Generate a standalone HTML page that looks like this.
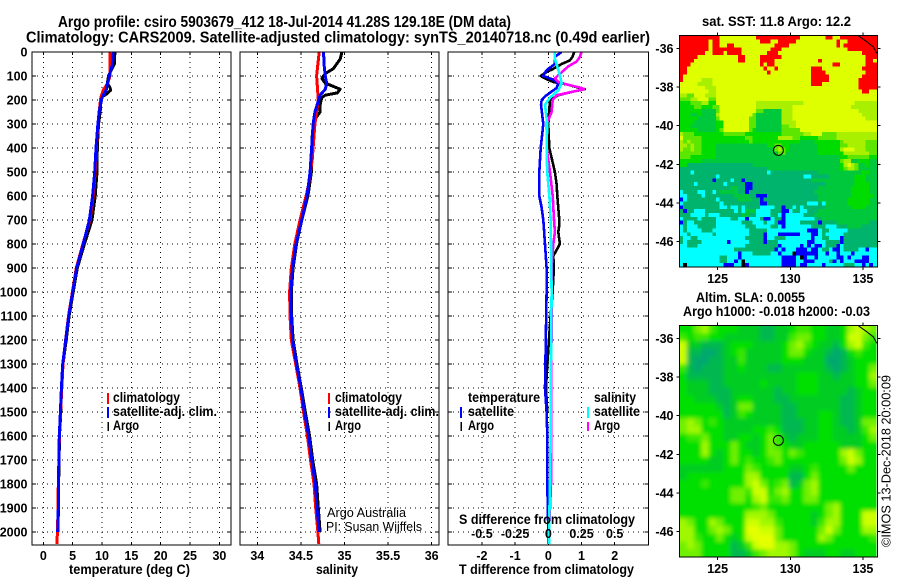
<!DOCTYPE html>
<html lang="en">
<head>
<meta charset="utf-8">
<title>Argo profile csiro 5903679_412</title>
<style>
html,body{margin:0;padding:0;background:#fff;}
svg{display:block;}
text{font-family:"Liberation Sans",sans-serif;fill:#000;}
.b{font-weight:bold;font-size:13.5px;}
.h{font-weight:bold;font-size:15.5px;}
.t{font-weight:bold;font-size:12.5px;}
.n{font-size:13px;}
</style>
</head>
<body>
<svg id="root" xmlns="http://www.w3.org/2000/svg" width="900" height="580" viewBox="0 0 900 580">
<rect x="0" y="0" width="900" height="580" fill="#fff"/>
<defs>
<clipPath id="clipT"><rect x="32" y="52" width="199" height="493"/></clipPath>
<clipPath id="clipS"><rect x="240" y="52" width="199" height="493"/></clipPath>
<clipPath id="clipD"><rect x="448" y="52" width="200" height="493"/></clipPath>
<clipPath id="clipSla"><rect x="679.5" y="326" width="197" height="231"/></clipPath>
<filter id="soft" filterUnits="userSpaceOnUse" x="650" y="300" width="250" height="280"><feGaussianBlur stdDeviation="2.2"/></filter>
</defs>
<text class="h" x="58" y="27" textLength="453" lengthAdjust="spacingAndGlyphs">Argo profile: csiro 5903679_412 18-Jul-2014 41.28S 129.18E (DM data)</text>
<text class="h" x="26" y="42.5" textLength="624" lengthAdjust="spacingAndGlyphs">Climatology: CARS2009. Satellite-adjusted climatology: synTS_20140718.nc (0.49d earlier)</text>
<g id="panels"></g>
<text class="b" x="69" y="574" textLength="121" lengthAdjust="spacingAndGlyphs">temperature (deg C)</text>
<text class="b" x="316" y="574" textLength="42" lengthAdjust="spacingAndGlyphs">salinity</text>
<text class="b" x="459" y="574" textLength="175" lengthAdjust="spacingAndGlyphs">T difference from climatology</text>
<text class="b" x="459" y="524" textLength="176" lengthAdjust="spacingAndGlyphs">S difference from climatology</text>

<g>
<rect x="107" y="393" width="2" height="11" fill="#f00"/>
<rect x="107" y="407" width="2" height="11" fill="#00f"/>
<rect x="107.5" y="422" width="1.5" height="9" fill="#000"/>
<text class="b" x="113" y="402" textLength="67" lengthAdjust="spacingAndGlyphs">climatology</text>
<text class="b" x="113" y="416" textLength="104" lengthAdjust="spacingAndGlyphs">satellite-adj. clim.</text>
<text class="b" x="113" y="430" textLength="26" lengthAdjust="spacingAndGlyphs">Argo</text>
</g>
<g>
<rect x="328" y="393" width="2" height="11" fill="#f00"/>
<rect x="328" y="407" width="2" height="11" fill="#00f"/>
<rect x="328.5" y="422" width="1.5" height="9" fill="#000"/>
<text class="b" x="335" y="402" textLength="67" lengthAdjust="spacingAndGlyphs">climatology</text>
<text class="b" x="335" y="416" textLength="104" lengthAdjust="spacingAndGlyphs">satellite-adj. clim.</text>
<text class="b" x="335" y="430" textLength="26" lengthAdjust="spacingAndGlyphs">Argo</text>
</g>
<g>
<text class="b" x="468" y="402" textLength="72" lengthAdjust="spacingAndGlyphs">temperature</text>
<text class="b" x="594" y="402" textLength="42" lengthAdjust="spacingAndGlyphs">salinity</text>
<rect x="460" y="407" width="2" height="11" fill="#00f"/>
<rect x="460.5" y="422" width="1.5" height="9" fill="#000"/>
<text class="b" x="468" y="416" textLength="46" lengthAdjust="spacingAndGlyphs">satellite</text>
<text class="b" x="468" y="430" textLength="26" lengthAdjust="spacingAndGlyphs">Argo</text>
<rect x="587" y="407" width="2" height="11" fill="#0ff"/>
<rect x="587" y="422" width="2" height="9" fill="#f0f"/>
<text class="b" x="594" y="416" textLength="46" lengthAdjust="spacingAndGlyphs">satellite</text>
<text class="b" x="594" y="430" textLength="26" lengthAdjust="spacingAndGlyphs">Argo</text>
</g>
<text class="n" x="327" y="517" textLength="79" lengthAdjust="spacingAndGlyphs">Argo Australia</text>
<text class="n" x="326" y="531" textLength="96" lengthAdjust="spacingAndGlyphs">PI: Susan Wijffels</text>

<g id="maps"></g>
<text class="b" x="702" y="26" textLength="149" lengthAdjust="spacingAndGlyphs">sat. SST: 11.8 Argo: 12.2</text>
<text class="b" x="696" y="302" textLength="109" lengthAdjust="spacingAndGlyphs">Altim. SLA: 0.0055</text>
<text class="b" x="683" y="316" textLength="187" lengthAdjust="spacingAndGlyphs">Argo h1000: -0.018 h2000: -0.03</text>
<text class="n" transform="translate(890.5,547) rotate(-90)" x="0" y="0" textLength="172" lengthAdjust="spacingAndGlyphs">©IMOS 13-Dec-2018 20:00:09</text>
</svg>
<script>
// ---------- profile data ----------
const tempAxisTicks = [0, 5, 10, 15, 20, 25, 30];
const salAxisTicks = [34, 34.5, 35, 35.5, 36];
const salAxisLabels = ["34", "34.5", "35", "35.5", "36"];
const diffAxisTicks = [-2, -1, 0, 1, 2];
const sDiffAxisTicks = [-0.5, -0.25, 0, 0.25, 0.5];
const sDiffAxisLabels = ["-0.5", "-0.25", "0", "0.25", "0.5"];
const depthTicks = [0, 100, 200, 300, 400, 500, 600, 700, 800, 900, 1000, 1100, 1200, 1300, 1400, 1500, 1600, 1700, 1800, 1900, 2000];

const tempArgoDepths = [0, 50, 100, 130, 150, 160, 175, 190, 250, 300, 400, 500, 600, 700, 800, 900, 1000, 1100, 1200, 1300, 1400, 1500, 1600, 1700, 1800, 1900, 2000];
const tempArgo = [12.2, 12.1, 11.1, 10.9, 11.4, 11.45, 10.8, 9.8, 9.7, 9.4, 9.2, 9.15, 8.85, 8.3, 7.0, 5.8, 5.1, 4.4, 3.9, 3.35, 3.12, 2.98, 2.76, 2.7, 2.6, 2.58, 2.5];
const climDepths = [0, 100, 130, 160, 190, 250, 300, 400, 500, 600, 700, 800, 900, 1000, 1100, 1200, 1300, 1400, 1500, 1600, 1700, 1800, 1900, 2000, 2050];
const tempClim = [11.37, 11.37, 10.95, 10.2, 9.8, 9.5, 9.3, 9.05, 8.85, 8.5, 7.95, 6.75, 5.62, 4.95, 4.3, 3.8, 3.35, 3.15, 2.95, 2.75, 2.65, 2.56, 2.5, 2.42, 2.3];
const satDepths = [0, 50, 100, 130, 160, 190, 250, 300, 400, 500, 600, 700, 800, 900, 1000, 1100, 1200, 1300, 1400, 1500, 1600, 1700, 1800, 1900, 2000];
const tempSat = [11.93, 11.8, 11.25, 10.95, 10.7, 10.0, 9.5, 9.3, 8.98, 8.75, 8.4, 7.85, 6.8, 5.69, 5.0, 4.33, 3.82, 3.3, 3.08, 2.92, 2.72, 2.66, 2.55, 2.55, 2.45];

const salArgoDepths = [0, 30, 70, 90, 110, 130, 140, 155, 170, 180, 190, 220, 250, 280, 350, 500, 600, 700, 800, 900, 1000, 1100, 1200, 1300, 1400, 1500, 1600, 1700, 1800, 1900, 2000];
const salArgo = [34.97, 34.95, 34.87, 34.78, 34.74, 34.78, 34.85, 34.95, 34.92, 34.78, 34.74, 34.72, 34.72, 34.66, 34.63, 34.62, 34.58, 34.51, 34.45, 34.41, 34.39, 34.395, 34.41, 34.455, 34.505, 34.55, 34.6, 34.635, 34.68, 34.7, 34.72];
const salClimDepths = [0, 100, 200, 300, 450, 550, 600, 700, 800, 900, 1000, 1100, 1200, 1300, 1400, 1500, 1600, 1700, 1800, 1900, 2000, 2050];
const salClim = [34.71, 34.68, 34.7, 34.66, 34.63, 34.59, 34.56, 34.49, 34.43, 34.39, 34.37, 34.375, 34.39, 34.44, 34.49, 34.53, 34.575, 34.61, 34.65, 34.67, 34.695, 34.705];
const salSatDepths = [0, 50, 100, 130, 155, 180, 250, 300, 500, 600, 700, 800, 900, 1000, 1100, 1200, 1300, 1400, 1500, 1600, 1700, 1800, 1900, 2000];
const salSat = [34.76, 34.765, 34.78, 34.795, 34.78, 34.72, 34.66, 34.64, 34.605, 34.57, 34.51, 34.445, 34.405, 34.385, 34.39, 34.405, 34.45, 34.5, 34.54, 34.59, 34.625, 34.665, 34.685, 34.71];

const diffTArgoDepths = [0, 20, 35, 50, 70, 85, 100, 110, 125, 135, 150, 155, 165, 180, 200, 300, 400, 500, 550, 600, 700, 720, 750, 800, 850, 900, 1000, 1100, 1300, 1400, 1500];
const diffTArgo = [0.78, 0.73, 0.65, 0.4, 0.15, -0.07, -0.23, -0.1, 0.15, 0.55, 0.95, 1.1, 0.75, 0.3, 0.05, 0, 0.03, 0.2, 0.25, 0.27, 0.33, 0.33, 0.3, 0.35, 0.15, 0.17, 0.13, 0.07, -0.03, -0.07, -0.03];
const diffTSatDepths = [0, 20, 50, 70, 85, 100, 115, 130, 150, 165, 185, 200, 220, 300, 400, 500, 600, 650, 700, 800, 900, 1000, 1400, 1500, 1600, 1800, 2000, 2050];
const diffTSat = [0.4, 0.2, 0.2, 0, -0.1, -0.15, 0.15, 0.3, 0.25, 0.1, -0.1, -0.2, -0.22, -0.15, -0.23, -0.27, -0.27, -0.2, -0.15, -0.1, -0.05, -0.05, -0.1, -0.05, -0.03, -0.03, 0, 0];
const diffSArgoDepths = [0, 20, 40, 60, 85, 110, 125, 135, 150, 155, 165, 180, 200, 250, 300, 400, 500, 600, 700, 750, 800, 900, 1000, 1600, 1800, 2000];
const diffSArgo = [0.25, 0.238, 0.213, 0.15, 0.1, 0.05, 0.075, 0.138, 0.25, 0.268, 0.188, 0.063, 0.033, 0.025, -0.013, -0.013, 0.013, 0.033, 0.043, 0.05, 0.038, 0.025, 0.025, 0.022, 0.02, 0.005];
const diffSSatDepths = [0, 30, 60, 100, 130, 160, 190, 220, 250, 300, 400, 500, 600, 700, 800, 1000, 1400, 1600, 1800, 2000, 2050];
const diffSSat = [0.05, 0.05, 0.068, 0.088, 0.1, 0.075, 0.013, -0.025, -0.018, -0.008, -0.013, -0.008, 0.008, 0.018, 0.02, 0.025, 0.018, 0.018, 0.013, 0.005, 0.005];

// ---------- map data ----------
const argoLon = 129.18;
const argoLat = -41.28;
const lonTicks = [125, 130, 135];
const latTicks = [-36, -38, -40, -42, -44, -46];
const coastLons = [134.68, 135.26, 135.71, 135.95];
const coastLats = [-35.35, -35.66, -35.92, -36.26];
const sstPalette = ["#000000", "#0000ff", "#00ffff", "#00b46e", "#00c83c", "#00dc00", "#5ce600", "#a8f000", "#deff00", "#ff0000"];
const slaPalette = ["#00a870", "#00b850", "#00cc20", "#00e000", "#38e800", "#70f000", "#a0f800", "#ccff00", "#e4ff00"];
const sstLevels = [
"999999999998888888888999999999999888888899889999999999",
"999999998998888888888899988999998888888888898899999999",
"999999998998899888888888889999888888888888898999999999",
"999999998999999998888888899988888888888888888899999999",
"999999988999899998888888999888888888888888888888889999",
"999998888888888899888899999988888888888888888888888999",
"999988888888888899888899998888888888889888888888888998",
"999 8888888888888888888 9 8 99 8888888888888888 99 8888888 999",
"998888888888888888888889889888888888999888888888889999",
"998888888888888888888888988888888888999988888888888999",
"988888888888888888888888888888888888999998888888889999",
"988888777888888888888888888888888888999998888888899999",
"888887777888888888888888888888888888999888888888899999",
"888888877788888888888888888888888888888888888888899999",
"888888887788888888888888888888888888888888888888889988",
"776688877788888888888888888888888888888888888888888888",
"666778886688888888888888888888888888888888888888888888",
"555666775588888888888777777777777788888888888888777777",
"55556655566 8888888888 7777777777 8888888888888888 7777777",
"555555444468888888888664444477788888888888888888877777",
"555445444478888888886444444477788888888888888888887777",
"555554444468888888866444444477788888888888888888888777",
"555544444455888888866444444477778888888888888888888888",
"555444444455888888866444444466778888888888888888888888",
"555554444456888888865444444466666888888888888888888888",
"766655555555666666555555555566666677888666677777777777",
"866666555555555555665555555777766555556666677777777777",
"767666555555555555565555555555555444455555556777777666",
"776766555544444444444444556655444444445555556677777666",
"766766555544444444444444446765444444445555557888777666",
"666666555544444444444444444664444444445555555777777766",
"666555 5555 4444444444 4444444444 4444444444 4444 55 666666 55",
"555555 4444444444 4444444444 4444444444 44444444 677 4455544",
"55 33333333 3333333333 444444444444 444444444444 57876 44544",
"333333333333 333333333333 44444444444444444444 56776 44444",
"333 2 33333333333333333333 2 3333333333333 44444444 44445544",
"3333333333 2 33333333333333333333333 22 33333 44444 44555444",
"333333333 1 3333 2 33 1 333333333333333333 4444444444 44555444",
"3333 2 3333333 2 33333 11 33333333333333333333 444444 44555544",
"33333333333333 44 33 11 333333333333333333 44444444 45555544",
"2 3333 22 33 2 3 44444 33 1 333333333333333333 444444444 45555544",
"22 3333 2 33333333 4444 33 111 33333333333333 44444444 45555554",
"1 2 33333333 2 33333 4444 33 1 333333333333333 4444444 455555544",
"2 3333333333 2 3333333333 1 1 33333333333 222 3 2 444444 55555544",
"1 3333333333 22 3 22 3 2 3333 2222 33 1 33 232 333333 444444 45555444",
"3133222 33333333 2 3 2 444 2222 333 11 2 33 22 333 4444444 444444444",
"333 2222 3 222 3333 33 44 33 2222 33 2 1 2222 2 333 444444444 44444444",
"2 3333 2 3333 2222 33 22 1 22 2 3 11 2 33 1 22222222 33 444444 444444444",
"1 3 22 333333 2222222 3 33 222 3 22 3 11 2222 33333 1 3333 44 444444433",
"2 3 222 33333 22222222 333 2222 33 2 1 2222222 3333 222 333 44443333",
"232222 333 2222222222 33333 2222 2222222 1 11 2 33 22222 33333333",
"22 3 222222 3 222222222 3333 1 222 111111 222 11 2 3 22222 333333333",
"322 33 2222 222222222 33 333 1 22 33 3 2222222 1 22 33 222 1 333333333",
"3 2 3333 2222222 1 22222 3333 1 333 22222222 11 222 3333 1 333333333",
"22 333 2222222222222 333333333 1 22222 1 2 1 2 11 2 333 1 2 333333333",
"222222222222222 33333333333 1 2 1 222 111 2 11 2 33 2 1 1 2 333322122",
"2222222222222222 1 222 33333 2 2 1 222 0 111111 22 1 22 1 222 1 2222",
"22222222222 33 222 1 2 222222 222 2 1111 2 0 1 22 1 22222 1 1 2 1 222 11 22",
"22222222222 33 22 1 2 0 2222222222 1111 22 11 1 2222 3 1 2 1 222 11 11 22",
"2 0 2222222222 111 22 0 1 2 22222222 1111 2 11 2222 1 22222 333 22 1 2 1 2"
];
const slaLevels = [
[3,3,5,6,4,3,3,3,2,2,2,1,1,2,2,3,4,4,3,3,2,2,3,6,7,6,5],
[4,3,4,4,3,3,2,2,2,2,2,1,1,2,2,4,5,5,3,3,2,2,3,7,7,5,4],
[7,2,2,1,1,1,2,3,3,3,2,2,2,2,3,5,6,4,3,2,2,1,3,6,7,4,3],
[7,1,1,0,0,1,2,3,4,2,2,2,2,2,3,5,5,3,2,2,1,0,1,3,4,3,3],
[7,1,0,0,1,1,2,2,4,2,2,2,2,2,3,3,3,2,2,2,0,0,1,2,3,3,3],
[4,1,0,1,1,1,2,2,3,2,2,2,1,1,2,2,2,2,2,2,1,0,1,2,3,3,5],
[3,1,1,1,1,1,2,2,2,2,2,2,2,2,2,2,3,3,3,2,2,1,2,2,3,3,6],
[3,2,2,2,1,1,2,2,2,2,2,3,2,2,2,2,3,3,3,2,2,2,2,2,3,3,5],
[3,2,2,2,1,1,1,2,2,2,2,2,2,1,2,2,3,3,3,2,2,2,2,1,2,3,3],
[3,3,2,2,2,1,1,2,3,3,2,2,2,1,1,2,2,2,2,2,2,2,1,1,2,3,3],
[3,3,3,3,3,2,1,2,5,5,2,2,2,2,1,1,2,2,2,2,2,2,1,1,2,3,3],
[3,3,3,3,3,3,1,2,4,3,2,2,2,2,1,1,2,2,2,3,3,2,1,1,2,3,3],
[5,6,5,3,4,3,2,2,2,2,2,2,2,2,1,1,1,2,2,3,3,2,1,1,2,5,5],
[5,6,6,3,3,3,2,2,2,2,3,3,4,3,1,1,1,2,2,3,3,2,2,1,2,4,6],
[3,4,4,5,3,3,2,2,3,3,2,3,5,4,2,1,2,2,2,3,3,2,2,2,2,3,5],
[3,3,3,6,3,3,3,5,3,2,2,3,5,4,3,2,2,3,3,3,3,3,2,2,2,3,3],
[3,3,3,6,3,2,3,5,3,3,2,3,5,5,3,5,4,3,3,3,3,3,6,7,5,3,3],
[3,3,3,3,2,2,3,5,3,4,3,3,4,5,3,3,3,3,3,3,3,3,5,7,6,3,3],
[2,2,2,2,2,2,3,3,3,5,4,3,3,3,3,2,2,3,4,3,3,3,3,5,3,3,3],
[2,3,3,3,3,3,3,3,3,6,6,3,3,3,3,1,1,3,5,3,3,3,3,3,3,3,3],
[3,3,3,4,3,3,3,3,3,6,7,5,3,4,5,1,2,5,6,3,3,3,3,3,3,3,3],
[3,3,3,3,3,3,3,5,5,4,7,7,3,5,6,3,3,5,6,3,3,3,3,3,3,3,3],
[3,3,3,3,3,3,3,5,5,3,6,7,4,4,5,3,3,5,5,3,3,3,3,3,3,3,3],
[3,3,3,3,3,3,3,3,3,3,4,5,3,3,3,3,3,3,3,3,5,6,3,3,3,3,3],
[3,3,3,3,3,3,3,3,3,6,6,6,5,3,3,3,3,3,2,3,5,6,3,3,3,7,7],
[6,5,3,3,6,5,3,3,3,7,7,6,6,4,3,3,3,3,2,4,6,6,3,3,3,7,7],
[6,6,3,3,5,6,5,3,3,8,8,7,7,5,3,3,3,3,3,5,7,5,3,3,3,6,6],
[6,6,4,3,3,5,3,2,3,7,8,8,8,5,3,3,3,3,3,6,5,3,3,3,3,3,4],
[5,6,5,3,3,3,3,1,2,4,7,8,8,6,6,5,3,3,3,3,3,3,3,3,3,3,3],
[5,5,5,3,3,3,3,1,1,2,4,5,6,6,6,5,3,2,2,2,3,3,2,2,3,3,3]
];

// ---------- axis functions ----------
const NS = "http://www.w3.org/2000/svg";
const yDepth = d => 52 + 0.24 * d;
const xTemp = v => 43.3 + 5.87 * v;
const xSal = v => 257.3 + 87.2 * (v - 34);
const xDiffT = v => 548.3 + 33.2 * v;
const xDiffS = v => 548.3 + 132.8 * v;
const xLon = v => 790.3 + 14.53 * (v - 130);
const yLatSst = v => 48.3 - 19.33 * (v + 36);
const yLatSla = v => 338.3 - 19.33 * (v + 36);

function mk(parent, tag, attrs) {
  const el = document.createElementNS(NS, tag);
  for (const k in attrs) el.setAttribute(k, attrs[k]);
  parent.appendChild(el);
  return el;
}

const panelsGroup = document.getElementById("panels");
const mapsGroup = document.getElementById("maps");

function drawFrame(parent, left, right, xTicks, xf, showDepthLabels) {
  const top = 52, bottom = 545;
  depthTicks.forEach(d => {
    if (d === 0) return;
    const y = yDepth(d);
    const gl = mk(parent, "line", {x1: left, x2: right, y1: y, y2: y, stroke: "#000", "stroke-width": 1, "stroke-dasharray": "1 4", "shape-rendering": "crispEdges"});
    
    
    [[left, left + 4], [right - 4, right]].forEach(p => {
      const tk = mk(parent, "line", {x1: p[0], x2: p[1], y1: y, y2: y, stroke: "#000", "stroke-width": 1, "shape-rendering": "crispEdges"});
      
      
    });
  });
  xTicks.forEach(v => {
    const x = xf(v);
    const gl = mk(parent, "line", {x1: x, x2: x, y1: top, y2: bottom, stroke: "#000", "stroke-width": 1, "stroke-dasharray": "1 4", "shape-rendering": "crispEdges"});
    
    
    [[top, top + 3], [bottom - 3, bottom]].forEach(p => {
      const tk = mk(parent, "line", {x1: x, x2: x, y1: p[0], y2: p[1], stroke: "#000", "stroke-width": 1, "shape-rendering": "crispEdges"});
      
      
    });
  });
  if (showDepthLabels) {
    depthTicks.forEach(d => {
      const t = mk(parent, "text", {class: "t", x: 27.5, y: yDepth(d) + 4.5, "text-anchor": "end"});
      
      
      t.textContent = String(d);
    });
  }
}

function drawBox(parent, left, right) {
  const r = mk(parent, "rect", {x: left, y: 52, width: right - left, height: 493, fill: "none", stroke: "#000", "stroke-width": 1.2, "shape-rendering": "crispEdges"});
  
  
}

function drawXLabels(parent, ticks, labels, xf, y) {
  ticks.forEach((v, i) => {
    const t = mk(parent, "text", {class: "t", x: xf(v), y: y, "text-anchor": "middle"});
    
    
    t.textContent = labels[i];
  });
}

function drawSeries(parent, depths, values, xf, color, width, clip, name) {
  const pts = values.map((v, i) => xf(v).toFixed(1) + "," + yDepth(depths[i]).toFixed(1)).join(" ");
  const p = mk(parent, "polyline", {points: pts, fill: "none", stroke: color, "stroke-width": width, "stroke-linejoin": "round", "shape-rendering": "crispEdges", "clip-path": "url(#" + clip + ")"});
  
  
}

// temperature panel
drawFrame(panelsGroup, 32, 231, tempAxisTicks, xTemp, true);
drawSeries(panelsGroup, tempArgoDepths, tempArgo, xTemp, "#000", 3, "clipT", "temperature-argo-line");
drawSeries(panelsGroup, climDepths, tempClim, xTemp, "#f00", 3, "clipT", "temperature-climatology-line");
drawSeries(panelsGroup, satDepths, tempSat, xTemp, "#00f", 3, "clipT", "temperature-satellite-line");
drawBox(panelsGroup, 32, 231);
drawXLabels(panelsGroup, tempAxisTicks, tempAxisTicks.map(String), xTemp, 560);

// salinity panel
drawFrame(panelsGroup, 240, 439, salAxisTicks, xSal, false);
drawSeries(panelsGroup, salArgoDepths, salArgo, xSal, "#000", 3, "clipS", "salinity-argo-line");
drawSeries(panelsGroup, salClimDepths, salClim, xSal, "#f00", 3, "clipS", "salinity-climatology-line");
drawSeries(panelsGroup, salSatDepths, salSat, xSal, "#00f", 3, "clipS", "salinity-satellite-line");
drawBox(panelsGroup, 240, 439);
drawXLabels(panelsGroup, salAxisTicks, salAxisLabels, xSal, 560);

// difference panel
drawFrame(panelsGroup, 448, 648.5, diffAxisTicks, xDiffT, false);
drawSeries(panelsGroup, diffTArgoDepths, diffTArgo, xDiffT, "#000", 2.6, "clipD", "t-difference-argo-line");
drawSeries(panelsGroup, diffTSatDepths, diffTSat, xDiffT, "#00f", 2.6, "clipD", "t-difference-satellite-line");
drawSeries(panelsGroup, diffSArgoDepths, diffSArgo, xDiffS, "#f0f", 2.6, "clipD", "s-difference-argo-line");
drawSeries(panelsGroup, diffSSatDepths, diffSSat, xDiffS, "#0ff", 2.6, "clipD", "s-difference-satellite-line");
drawBox(panelsGroup, 448, 648.5);
drawXLabels(panelsGroup, diffAxisTicks, diffAxisTicks.map(String), xDiffT, 560);
drawXLabels(panelsGroup, sDiffAxisTicks, sDiffAxisLabels, xDiffS, 538);

// maps
const mapLeft = 679.5, mapRight = 876.5, mapW = 197;

function drawMapAxes(top, bottom, yLat, labelY, titleName) {
  lonTicks.forEach(v => {
    const x = xLon(v);
    [[top - 3, top], [bottom, bottom + 3]].forEach(p => {
      const tk = mk(mapsGroup, "line", {x1: x, x2: x, y1: p[0], y2: p[1], stroke: "#000", "stroke-width": 1, "shape-rendering": "crispEdges"});
      
      
    });
    const t = mk(mapsGroup, "text", {class: "t", x: x, y: labelY, "text-anchor": "middle"});
    
    
    t.textContent = String(v);
  });
  latTicks.forEach(v => {
    const y = yLat(v);
    [[mapLeft - 3, mapLeft], [mapRight + 1, mapRight + 4]].forEach(p => {
      const tk = mk(mapsGroup, "line", {x1: p[0], x2: p[1], y1: y, y2: y, stroke: "#000", "stroke-width": 1, "shape-rendering": "crispEdges"});
      
      
    });
    const t = mk(mapsGroup, "text", {class: "t", x: 673.5, y: y + 4.5, "text-anchor": "end"});
    
    
    t.textContent = String(v);
  });
  const f = mk(mapsGroup, "rect", {x: mapLeft, y: top, width: mapW + 1, height: bottom - top, fill: "none", stroke: "#000", "stroke-width": 1, "shape-rendering": "crispEdges"});
  
  
  const coast = mk(mapsGroup, "polyline", {points: coastLons.map((v, i) => xLon(v).toFixed(1) + "," + yLat(coastLats[i]).toFixed(1)).join(" "), fill: "none", stroke: "#000", "stroke-width": 1});
  
  
  const m = mk(mapsGroup, "circle", {cx: xLon(argoLon), cy: yLat(argoLat), r: 5, fill: "none", stroke: "#000", "stroke-width": 1});
  
  
}

// SST heatmap
const sstTop = 35.7, sstBottom = 267;
const sstCols = 54;
const sstCellW = mapW / sstCols;
const sstCellH = (sstBottom - sstTop) / sstLevels.length;
const sstGroup = mk(mapsGroup, "g", {"shape-rendering": "crispEdges"});


sstLevels.forEach((row, r) => {
  const clean = row.replace(/ /g, "");
  const cells = clean.padEnd(sstCols, clean[clean.length - 1]).slice(0, sstCols);
  for (let c = 0; c < sstCols; c++) {
    const cell = mk(sstGroup, "rect", {x: (mapLeft + c * sstCellW).toFixed(2), y: (sstTop + r * sstCellH).toFixed(2), width: (sstCellW + 0.4).toFixed(2), height: (sstCellH + 0.4).toFixed(2), fill: sstPalette[+cells[c]]});
    
    
  }
});
drawMapAxes(sstTop, sstBottom, yLatSst, 283, "sst-map-frame");

// SLA heatmap
const slaTop = 325.7, slaBottom = 557;
const slaCols = slaLevels[0].length;
const slaRows = slaLevels.length;
const slaCellW = mapW / slaCols;
const slaCellH = (slaBottom - slaTop) / slaRows;
const slaClip = mk(mapsGroup, "g", {"clip-path": "url(#clipSla)"});


const slaGroup = mk(slaClip, "g", {filter: "url(#soft)"});


slaLevels.forEach((row, r) => {
  row.forEach((v, c) => {
    const extL = c === 0 ? 12 : 0;
    const extR = c === slaCols - 1 ? 12 : 0;
    const extT = r === 0 ? 12 : 0;
    const extB = r === slaRows - 1 ? 12 : 0;
    const cell = mk(slaGroup, "rect", {x: (mapLeft + c * slaCellW - extL).toFixed(2), y: (slaTop + r * slaCellH - extT).toFixed(2), width: (slaCellW + 0.5 + extL + extR).toFixed(2), height: (slaCellH + 0.5 + extT + extB).toFixed(2), fill: slaPalette[v]});
    
    
  });
});
drawMapAxes(slaTop, slaBottom, yLatSla, 573, "sla-map-frame");
</script>
</body>
</html>
